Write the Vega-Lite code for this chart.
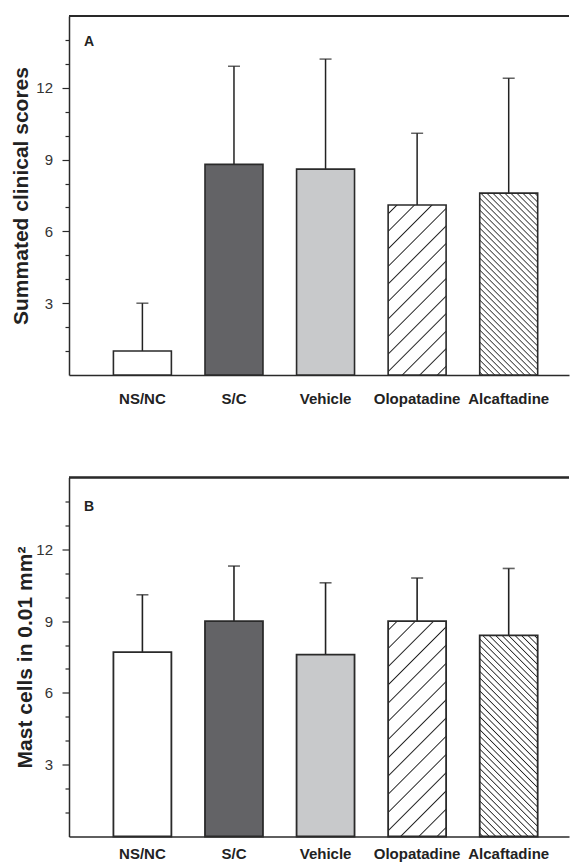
{
  "$schema": "https://vega.github.io/schema/vega-lite/v6.json",
  "autosize": {"type": "pad"},
  "padding": {"left": 10, "top": 15, "right": 0, "bottom": 0},
  "background": "white",
  "spacing": 102.5,
  "bounds": "flush",
  "config": {"view": {"stroke": null}, "font": "Liberation Sans"},
  "vconcat": [
    {
      "width": 500,
      "height": 359,
      "title": {"text": "A", "anchor": "start", "frame": "group", "orient": "top", "baseline": "top", "offset": -34, "dx": 15, "fontSize": 14, "fontWeight": "bold", "font": "Liberation Sans", "color": "#222"},
      "data": {"values": [
        {"group": "NS/NC", "mean": 1.0, "upper": 3.0},
        {"group": "S/C", "mean": 8.8, "upper": 12.9},
        {"group": "Vehicle", "mean": 8.6, "upper": 13.2},
        {"group": "Olopatadine", "mean": 7.1, "upper": 10.1},
        {"group": "Alcaftadine", "mean": 7.6, "upper": 12.4}
      ]},
      "encoding": {
        "x": {"field": "group", "type": "nominal", "sort": ["NS/NC", "S/C", "Vehicle", "Olopatadine", "Alcaftadine"],
          "scale": {"paddingInner": 0.367, "paddingOuter": 0.4135, "align": 0.5865, "round": false},
          "axis": {"title": null, "labelAngle": 0, "labelFont": "Liberation Sans", "labelFontSize": 15, "labelFontWeight": "bold", "labelColor": "#222", "ticks": false, "tickSize": 0, "labelPadding": 16, "domainColor": "#2a2a2a", "domainWidth": 1.5, "grid": false}},
        "y": {"field": "mean", "type": "quantitative", "scale": {"domain": [0, 15], "nice": false},
          "axis": {"title": "Summated clinical scores", "titleFont": "Liberation Sans", "titleFontSize": 21, "titleFontWeight": "bold", "titleColor": "#222", "titlePadding": 4,
            "values": [1,2,3,4,5,6,7,8,9,10,11,12,13,14],
            "tickSize": {"condition": {"test": "datum.value % 3 === 0", "value": 7}, "value": 4},
            "tickColor": "#2a2a2a", "tickWidth": 1.2,
            "labelExpr": "datum.value % 3 === 0 ? datum.label : ''",
            "labelFont": "Liberation Sans", "labelFontSize": 15, "labelColor": "#333", "labelPadding": 9.5,
            "domainColor": "#2a2a2a", "domainWidth": 1.5, "grid": false}}
      },
      "layer": [
        {"mark": {"type": "rule", "color": "#2a2a2a", "strokeWidth": 1.5},
         "encoding": {"x": null, "y": {"datum": 15, "type": "quantitative"}}},
        {"mark": {"type": "rule", "color": "#222", "strokeWidth": 1.5},
         "encoding": {"y2": {"field": "upper"}}},
        {"mark": {"type": "tick", "orient": "horizontal", "size": 12, "thickness": 1.5, "color": "#222"},
         "encoding": {"y": {"field": "upper", "type": "quantitative"}}},
        {"mark": {"type": "bar", "stroke": "#2a2a2a", "strokeWidth": 1.6},
         "encoding": {
           "fill": {"condition": [
             {"test": "datum.group === 'Olopatadine'", "value": {"gradient": "linear", "x1": 0, "y1": 0, "x2": 0.41, "y2": 1.2013, "stops": [
               {"offset": 0.0325, "color": "#fff"}, {"offset": 0.0385, "color": "#222"}, {"offset": 0.0445, "color": "#fff"},
               {"offset": 0.1094, "color": "#fff"}, {"offset": 0.1154, "color": "#222"}, {"offset": 0.1214, "color": "#fff"},
               {"offset": 0.1863, "color": "#fff"}, {"offset": 0.1923, "color": "#222"}, {"offset": 0.1983, "color": "#fff"},
               {"offset": 0.2632, "color": "#fff"}, {"offset": 0.2692, "color": "#222"}, {"offset": 0.2752, "color": "#fff"},
               {"offset": 0.3402, "color": "#fff"}, {"offset": 0.3462, "color": "#222"}, {"offset": 0.3522, "color": "#fff"},
               {"offset": 0.4171, "color": "#fff"}, {"offset": 0.4231, "color": "#222"}, {"offset": 0.4291, "color": "#fff"},
               {"offset": 0.494, "color": "#fff"}, {"offset": 0.5, "color": "#222"}, {"offset": 0.506, "color": "#fff"},
               {"offset": 0.5709, "color": "#fff"}, {"offset": 0.5769, "color": "#222"}, {"offset": 0.5829, "color": "#fff"},
               {"offset": 0.6478, "color": "#fff"}, {"offset": 0.6538, "color": "#222"}, {"offset": 0.6598, "color": "#fff"},
               {"offset": 0.7248, "color": "#fff"}, {"offset": 0.7308, "color": "#222"}, {"offset": 0.7368, "color": "#fff"},
               {"offset": 0.8017, "color": "#fff"}, {"offset": 0.8077, "color": "#222"}, {"offset": 0.8137, "color": "#fff"},
               {"offset": 0.8786, "color": "#fff"}, {"offset": 0.8846, "color": "#222"}, {"offset": 0.8906, "color": "#fff"},
               {"offset": 0.9555, "color": "#fff"}, {"offset": 0.9615, "color": "#222"}, {"offset": 0.9675, "color": "#fff"}]}},
             {"test": "datum.group === 'Alcaftadine'", "value": {"gradient": "linear", "x1": 0, "y1": 1, "x2": 0.3817, "y2": -0.1971, "stops": [
               {"offset": 0.008, "color": "#fff"}, {"offset": 0.0125, "color": "#222"}, {"offset": 0.017, "color": "#fff"},
               {"offset": 0.033, "color": "#fff"}, {"offset": 0.0375, "color": "#222"}, {"offset": 0.042, "color": "#fff"},
               {"offset": 0.058, "color": "#fff"}, {"offset": 0.0625, "color": "#222"}, {"offset": 0.067, "color": "#fff"},
               {"offset": 0.083, "color": "#fff"}, {"offset": 0.0875, "color": "#222"}, {"offset": 0.092, "color": "#fff"},
               {"offset": 0.108, "color": "#fff"}, {"offset": 0.1125, "color": "#222"}, {"offset": 0.117, "color": "#fff"},
               {"offset": 0.133, "color": "#fff"}, {"offset": 0.1375, "color": "#222"}, {"offset": 0.142, "color": "#fff"},
               {"offset": 0.158, "color": "#fff"}, {"offset": 0.1625, "color": "#222"}, {"offset": 0.167, "color": "#fff"},
               {"offset": 0.183, "color": "#fff"}, {"offset": 0.1875, "color": "#222"}, {"offset": 0.192, "color": "#fff"},
               {"offset": 0.208, "color": "#fff"}, {"offset": 0.2125, "color": "#222"}, {"offset": 0.217, "color": "#fff"},
               {"offset": 0.233, "color": "#fff"}, {"offset": 0.2375, "color": "#222"}, {"offset": 0.242, "color": "#fff"},
               {"offset": 0.258, "color": "#fff"}, {"offset": 0.2625, "color": "#222"}, {"offset": 0.267, "color": "#fff"},
               {"offset": 0.283, "color": "#fff"}, {"offset": 0.2875, "color": "#222"}, {"offset": 0.292, "color": "#fff"},
               {"offset": 0.308, "color": "#fff"}, {"offset": 0.3125, "color": "#222"}, {"offset": 0.317, "color": "#fff"},
               {"offset": 0.333, "color": "#fff"}, {"offset": 0.3375, "color": "#222"}, {"offset": 0.342, "color": "#fff"},
               {"offset": 0.358, "color": "#fff"}, {"offset": 0.3625, "color": "#222"}, {"offset": 0.367, "color": "#fff"},
               {"offset": 0.383, "color": "#fff"}, {"offset": 0.3875, "color": "#222"}, {"offset": 0.392, "color": "#fff"},
               {"offset": 0.408, "color": "#fff"}, {"offset": 0.4125, "color": "#222"}, {"offset": 0.417, "color": "#fff"},
               {"offset": 0.433, "color": "#fff"}, {"offset": 0.4375, "color": "#222"}, {"offset": 0.442, "color": "#fff"},
               {"offset": 0.458, "color": "#fff"}, {"offset": 0.4625, "color": "#222"}, {"offset": 0.467, "color": "#fff"},
               {"offset": 0.483, "color": "#fff"}, {"offset": 0.4875, "color": "#222"}, {"offset": 0.492, "color": "#fff"},
               {"offset": 0.508, "color": "#fff"}, {"offset": 0.5125, "color": "#222"}, {"offset": 0.517, "color": "#fff"},
               {"offset": 0.533, "color": "#fff"}, {"offset": 0.5375, "color": "#222"}, {"offset": 0.542, "color": "#fff"},
               {"offset": 0.558, "color": "#fff"}, {"offset": 0.5625, "color": "#222"}, {"offset": 0.567, "color": "#fff"},
               {"offset": 0.583, "color": "#fff"}, {"offset": 0.5875, "color": "#222"}, {"offset": 0.592, "color": "#fff"},
               {"offset": 0.608, "color": "#fff"}, {"offset": 0.6125, "color": "#222"}, {"offset": 0.617, "color": "#fff"},
               {"offset": 0.633, "color": "#fff"}, {"offset": 0.6375, "color": "#222"}, {"offset": 0.642, "color": "#fff"},
               {"offset": 0.658, "color": "#fff"}, {"offset": 0.6625, "color": "#222"}, {"offset": 0.667, "color": "#fff"},
               {"offset": 0.683, "color": "#fff"}, {"offset": 0.6875, "color": "#222"}, {"offset": 0.692, "color": "#fff"},
               {"offset": 0.708, "color": "#fff"}, {"offset": 0.7125, "color": "#222"}, {"offset": 0.717, "color": "#fff"},
               {"offset": 0.733, "color": "#fff"}, {"offset": 0.7375, "color": "#222"}, {"offset": 0.742, "color": "#fff"},
               {"offset": 0.758, "color": "#fff"}, {"offset": 0.7625, "color": "#222"}, {"offset": 0.767, "color": "#fff"},
               {"offset": 0.783, "color": "#fff"}, {"offset": 0.7875, "color": "#222"}, {"offset": 0.792, "color": "#fff"},
               {"offset": 0.808, "color": "#fff"}, {"offset": 0.8125, "color": "#222"}, {"offset": 0.817, "color": "#fff"},
               {"offset": 0.833, "color": "#fff"}, {"offset": 0.8375, "color": "#222"}, {"offset": 0.842, "color": "#fff"},
               {"offset": 0.858, "color": "#fff"}, {"offset": 0.8625, "color": "#222"}, {"offset": 0.867, "color": "#fff"},
               {"offset": 0.883, "color": "#fff"}, {"offset": 0.8875, "color": "#222"}, {"offset": 0.892, "color": "#fff"},
               {"offset": 0.908, "color": "#fff"}, {"offset": 0.9125, "color": "#222"}, {"offset": 0.917, "color": "#fff"},
               {"offset": 0.933, "color": "#fff"}, {"offset": 0.9375, "color": "#222"}, {"offset": 0.942, "color": "#fff"},
               {"offset": 0.958, "color": "#fff"}, {"offset": 0.9625, "color": "#222"}, {"offset": 0.967, "color": "#fff"},
               {"offset": 0.983, "color": "#fff"}, {"offset": 0.9875, "color": "#222"}, {"offset": 0.992, "color": "#fff"}]}},
             {"test": "datum.group === 'S/C'", "value": "#636366"},
             {"test": "datum.group === 'Vehicle'", "value": "#c8c9cb"}
           ], "value": "#ffffff"}
         }}
      ]
    },
    {
      "width": 500,
      "height": 359,
      "title": {"text": "B", "anchor": "start", "frame": "group", "orient": "top", "baseline": "top", "offset": -37, "dx": 15, "fontSize": 14, "fontWeight": "bold", "font": "Liberation Sans", "color": "#222"},
      "data": {"values": [
        {"group": "NS/NC", "mean": 7.7, "upper": 10.1},
        {"group": "S/C", "mean": 9.0, "upper": 11.3},
        {"group": "Vehicle", "mean": 7.6, "upper": 10.6},
        {"group": "Olopatadine", "mean": 9.0, "upper": 10.8},
        {"group": "Alcaftadine", "mean": 8.4, "upper": 11.2}
      ]},
      "encoding": {
        "x": {"field": "group", "type": "nominal", "sort": ["NS/NC", "S/C", "Vehicle", "Olopatadine", "Alcaftadine"],
          "scale": {"paddingInner": 0.367, "paddingOuter": 0.4135, "align": 0.5865, "round": false},
          "axis": {"title": null, "labelAngle": 0, "labelFont": "Liberation Sans", "labelFontSize": 15, "labelFontWeight": "bold", "labelColor": "#222", "ticks": false, "tickSize": 0, "labelPadding": 10, "domainColor": "#2a2a2a", "domainWidth": 1.5, "grid": false}},
        "y": {"field": "mean", "type": "quantitative", "scale": {"domain": [0, 15], "nice": false},
          "axis": {"title": "Mast cells in 0.01 mm²", "titleFont": "Liberation Sans", "titleFontSize": 21, "titleFontWeight": "bold", "titleColor": "#222", "titlePadding": 0,
            "values": [1,2,3,4,5,6,7,8,9,10,11,12,13,14],
            "tickSize": {"condition": {"test": "datum.value % 3 === 0", "value": 7}, "value": 4},
            "tickColor": "#2a2a2a", "tickWidth": 1.2,
            "labelExpr": "datum.value % 3 === 0 ? datum.label : ''",
            "labelFont": "Liberation Sans", "labelFontSize": 15, "labelColor": "#333", "labelPadding": 9.5,
            "domainColor": "#2a2a2a", "domainWidth": 1.5, "grid": false}}
      },
      "layer": [
        {"mark": {"type": "rule", "color": "#2a2a2a", "strokeWidth": 1.5},
         "encoding": {"x": null, "y": {"datum": 15, "type": "quantitative"}}},
        {"mark": {"type": "rule", "color": "#222", "strokeWidth": 1.6},
         "encoding": {"y2": {"field": "upper"}}},
        {"mark": {"type": "tick", "orient": "horizontal", "size": 12, "thickness": 1.6, "color": "#222"},
         "encoding": {"y": {"field": "upper", "type": "quantitative"}}},
        {"mark": {"type": "bar", "stroke": "#2a2a2a", "strokeWidth": 1.8},
         "encoding": {
           "fill": {"condition": [
             {"test": "datum.group === 'Olopatadine'", "value": {"gradient": "linear", "x1": 0, "y1": 0, "x2": 0.3187, "y2": 1.1835, "stops": [
               {"offset": 0.0283, "color": "#fff"}, {"offset": 0.0333, "color": "#222"}, {"offset": 0.0383, "color": "#fff"},
               {"offset": 0.095, "color": "#fff"}, {"offset": 0.1, "color": "#222"}, {"offset": 0.105, "color": "#fff"},
               {"offset": 0.1617, "color": "#fff"}, {"offset": 0.1667, "color": "#222"}, {"offset": 0.1717, "color": "#fff"},
               {"offset": 0.2283, "color": "#fff"}, {"offset": 0.2333, "color": "#222"}, {"offset": 0.2383, "color": "#fff"},
               {"offset": 0.295, "color": "#fff"}, {"offset": 0.3, "color": "#222"}, {"offset": 0.305, "color": "#fff"},
               {"offset": 0.3617, "color": "#fff"}, {"offset": 0.3667, "color": "#222"}, {"offset": 0.3717, "color": "#fff"},
               {"offset": 0.4283, "color": "#fff"}, {"offset": 0.4333, "color": "#222"}, {"offset": 0.4383, "color": "#fff"},
               {"offset": 0.495, "color": "#fff"}, {"offset": 0.5, "color": "#222"}, {"offset": 0.505, "color": "#fff"},
               {"offset": 0.5617, "color": "#fff"}, {"offset": 0.5667, "color": "#222"}, {"offset": 0.5717, "color": "#fff"},
               {"offset": 0.6283, "color": "#fff"}, {"offset": 0.6333, "color": "#222"}, {"offset": 0.6383, "color": "#fff"},
               {"offset": 0.695, "color": "#fff"}, {"offset": 0.7, "color": "#222"}, {"offset": 0.705, "color": "#fff"},
               {"offset": 0.7617, "color": "#fff"}, {"offset": 0.7667, "color": "#222"}, {"offset": 0.7717, "color": "#fff"},
               {"offset": 0.8283, "color": "#fff"}, {"offset": 0.8333, "color": "#222"}, {"offset": 0.8383, "color": "#fff"},
               {"offset": 0.895, "color": "#fff"}, {"offset": 0.9, "color": "#222"}, {"offset": 0.905, "color": "#fff"},
               {"offset": 0.9617, "color": "#fff"}, {"offset": 0.9667, "color": "#222"}, {"offset": 0.9717, "color": "#fff"}]}},
             {"test": "datum.group === 'Alcaftadine'", "value": {"gradient": "linear", "x1": 0, "y1": 1, "x2": 0.3432, "y2": -0.1894, "stops": [
               {"offset": 0.008, "color": "#fff"}, {"offset": 0.0125, "color": "#222"}, {"offset": 0.017, "color": "#fff"},
               {"offset": 0.033, "color": "#fff"}, {"offset": 0.0375, "color": "#222"}, {"offset": 0.042, "color": "#fff"},
               {"offset": 0.058, "color": "#fff"}, {"offset": 0.0625, "color": "#222"}, {"offset": 0.067, "color": "#fff"},
               {"offset": 0.083, "color": "#fff"}, {"offset": 0.0875, "color": "#222"}, {"offset": 0.092, "color": "#fff"},
               {"offset": 0.108, "color": "#fff"}, {"offset": 0.1125, "color": "#222"}, {"offset": 0.117, "color": "#fff"},
               {"offset": 0.133, "color": "#fff"}, {"offset": 0.1375, "color": "#222"}, {"offset": 0.142, "color": "#fff"},
               {"offset": 0.158, "color": "#fff"}, {"offset": 0.1625, "color": "#222"}, {"offset": 0.167, "color": "#fff"},
               {"offset": 0.183, "color": "#fff"}, {"offset": 0.1875, "color": "#222"}, {"offset": 0.192, "color": "#fff"},
               {"offset": 0.208, "color": "#fff"}, {"offset": 0.2125, "color": "#222"}, {"offset": 0.217, "color": "#fff"},
               {"offset": 0.233, "color": "#fff"}, {"offset": 0.2375, "color": "#222"}, {"offset": 0.242, "color": "#fff"},
               {"offset": 0.258, "color": "#fff"}, {"offset": 0.2625, "color": "#222"}, {"offset": 0.267, "color": "#fff"},
               {"offset": 0.283, "color": "#fff"}, {"offset": 0.2875, "color": "#222"}, {"offset": 0.292, "color": "#fff"},
               {"offset": 0.308, "color": "#fff"}, {"offset": 0.3125, "color": "#222"}, {"offset": 0.317, "color": "#fff"},
               {"offset": 0.333, "color": "#fff"}, {"offset": 0.3375, "color": "#222"}, {"offset": 0.342, "color": "#fff"},
               {"offset": 0.358, "color": "#fff"}, {"offset": 0.3625, "color": "#222"}, {"offset": 0.367, "color": "#fff"},
               {"offset": 0.383, "color": "#fff"}, {"offset": 0.3875, "color": "#222"}, {"offset": 0.392, "color": "#fff"},
               {"offset": 0.408, "color": "#fff"}, {"offset": 0.4125, "color": "#222"}, {"offset": 0.417, "color": "#fff"},
               {"offset": 0.433, "color": "#fff"}, {"offset": 0.4375, "color": "#222"}, {"offset": 0.442, "color": "#fff"},
               {"offset": 0.458, "color": "#fff"}, {"offset": 0.4625, "color": "#222"}, {"offset": 0.467, "color": "#fff"},
               {"offset": 0.483, "color": "#fff"}, {"offset": 0.4875, "color": "#222"}, {"offset": 0.492, "color": "#fff"},
               {"offset": 0.508, "color": "#fff"}, {"offset": 0.5125, "color": "#222"}, {"offset": 0.517, "color": "#fff"},
               {"offset": 0.533, "color": "#fff"}, {"offset": 0.5375, "color": "#222"}, {"offset": 0.542, "color": "#fff"},
               {"offset": 0.558, "color": "#fff"}, {"offset": 0.5625, "color": "#222"}, {"offset": 0.567, "color": "#fff"},
               {"offset": 0.583, "color": "#fff"}, {"offset": 0.5875, "color": "#222"}, {"offset": 0.592, "color": "#fff"},
               {"offset": 0.608, "color": "#fff"}, {"offset": 0.6125, "color": "#222"}, {"offset": 0.617, "color": "#fff"},
               {"offset": 0.633, "color": "#fff"}, {"offset": 0.6375, "color": "#222"}, {"offset": 0.642, "color": "#fff"},
               {"offset": 0.658, "color": "#fff"}, {"offset": 0.6625, "color": "#222"}, {"offset": 0.667, "color": "#fff"},
               {"offset": 0.683, "color": "#fff"}, {"offset": 0.6875, "color": "#222"}, {"offset": 0.692, "color": "#fff"},
               {"offset": 0.708, "color": "#fff"}, {"offset": 0.7125, "color": "#222"}, {"offset": 0.717, "color": "#fff"},
               {"offset": 0.733, "color": "#fff"}, {"offset": 0.7375, "color": "#222"}, {"offset": 0.742, "color": "#fff"},
               {"offset": 0.758, "color": "#fff"}, {"offset": 0.7625, "color": "#222"}, {"offset": 0.767, "color": "#fff"},
               {"offset": 0.783, "color": "#fff"}, {"offset": 0.7875, "color": "#222"}, {"offset": 0.792, "color": "#fff"},
               {"offset": 0.808, "color": "#fff"}, {"offset": 0.8125, "color": "#222"}, {"offset": 0.817, "color": "#fff"},
               {"offset": 0.833, "color": "#fff"}, {"offset": 0.8375, "color": "#222"}, {"offset": 0.842, "color": "#fff"},
               {"offset": 0.858, "color": "#fff"}, {"offset": 0.8625, "color": "#222"}, {"offset": 0.867, "color": "#fff"},
               {"offset": 0.883, "color": "#fff"}, {"offset": 0.8875, "color": "#222"}, {"offset": 0.892, "color": "#fff"},
               {"offset": 0.908, "color": "#fff"}, {"offset": 0.9125, "color": "#222"}, {"offset": 0.917, "color": "#fff"},
               {"offset": 0.933, "color": "#fff"}, {"offset": 0.9375, "color": "#222"}, {"offset": 0.942, "color": "#fff"},
               {"offset": 0.958, "color": "#fff"}, {"offset": 0.9625, "color": "#222"}, {"offset": 0.967, "color": "#fff"},
               {"offset": 0.983, "color": "#fff"}, {"offset": 0.9875, "color": "#222"}, {"offset": 0.992, "color": "#fff"}]}},
             {"test": "datum.group === 'S/C'", "value": "#636366"},
             {"test": "datum.group === 'Vehicle'", "value": "#c8c9cb"}
           ], "value": "#ffffff"}
         }}
      ]
    }
  ]
}
